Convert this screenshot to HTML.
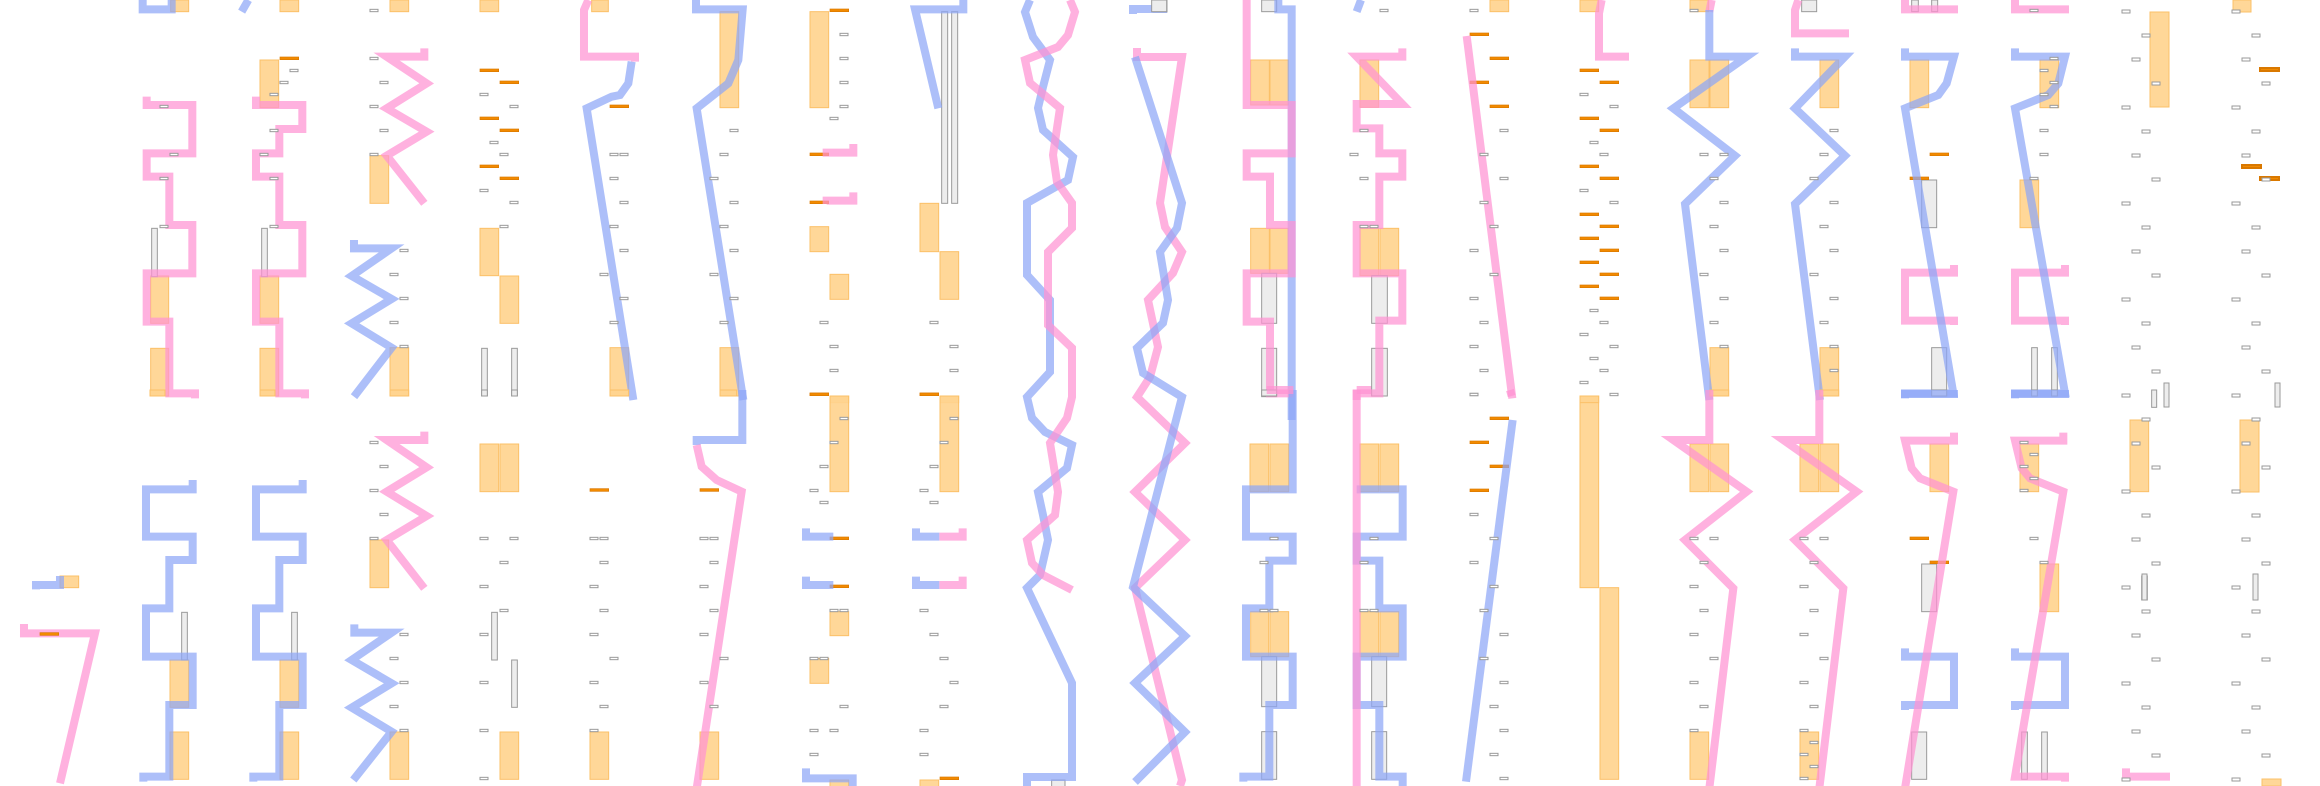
<!DOCTYPE html>
<html><head><meta charset="utf-8"><style>
html,body{margin:0;padding:0;background:#fff;width:2320px;height:786px;overflow:hidden}
svg{display:block}
.pk{fill:none;stroke:#ff93d2;stroke-opacity:.72;stroke-width:24;stroke-linejoin:miter}
.bl{fill:none;stroke:#8ea6f6;stroke-opacity:.72;stroke-width:24;stroke-linejoin:miter}
.or{fill:#ffd48f;fill-opacity:.92;stroke:#fbc068;stroke-width:3}
.ds{fill:#f28a00;stroke:#d97800;stroke-width:2}
.gl{fill:#ededed;stroke:#9a9a9a;stroke-width:3}
.gb{fill:#fff;stroke:#999;stroke-width:3}
</style></head><body>
<svg id="s" width="2320" height="786" viewBox="0 0 2320 786" xmlns="http://www.w3.org/2000/svg">
<!-- Zoom3: col0 -->
<g transform="translate(0,560) scale(0.33333)">
<rect class="or" x="180" y="48" width="56" height="35"/>
<polyline class="bl" points="108,88 108,75 180,75 180,48"/>
<polyline class="pk" points="72,192 72,220 285,220 180,670"/>
<rect class="ds" x="120" y="218" width="56" height="8"/>
</g>
<!-- Zoom6: cols1-4 top -->
<g transform="scale(0.33333)">
<rect class="or" x="512" y="0" width="54" height="35"/>
<rect class="or" x="452" y="828" width="54" height="142"/>
<rect class="or" x="452" y="1045" width="54" height="143"/>
<rect class="gl" x="455" y="685" width="17" height="145"/>
<polyline class="bl" points="428,0 428,28 515,28 515,0"/>
<polyline class="pk" points="440,290 440,315 577,315 577,460 440,460 440,530 508,530 508,675 577,675 577,820 440,820 440,965 508,965 508,1180 585,1180 585,1195"/>
<rect class="or" x="840" y="0" width="56" height="35"/>
<rect class="or" x="780" y="180" width="56" height="143"/>
<rect class="ds" x="840" y="171" width="56" height="8"/>
<rect class="or" x="780" y="828" width="56" height="142"/>
<rect class="or" x="780" y="1045" width="56" height="143"/>
<rect class="gl" x="785" y="685" width="17" height="145"/>
<polyline class="bl" points="725,35 745,0"/>
<polyline class="pk" points="768,290 768,315 907,315 907,387 838,387 838,460 768,460 768,530 838,530 838,675 907,675 907,820 768,820 768,965 838,965 838,1180 915,1180 915,1195"/>
<rect class="or" x="1170" y="0" width="56" height="35"/>
<rect class="or" x="1110" y="467" width="56" height="143"/>
<rect class="or" x="1170" y="1043" width="56" height="145"/>
<polyline class="pk" points="1273,145 1273,170 1160,170 1280,250 1160,325 1280,395 1160,467 1273,610"/>
<polyline class="bl" points="1062,720 1062,745 1175,745 1055,828 1175,897 1055,970 1175,1043 1062,1190"/>
<rect class="or" x="1440" y="0" width="56" height="35"/>
<rect class="or" x="1440" y="685" width="56" height="142"/>
<rect class="or" x="1500" y="828" width="56" height="142"/>
<rect class="gl" x="1445" y="1045" width="17" height="143"/>
<rect class="gl" x="1535" y="1045" width="17" height="143"/>
<rect class="ds" x="1440" y="207" width="56" height="8"/><rect class="ds" x="1500" y="243" width="56" height="8"/>
<rect class="ds" x="1440" y="351" width="56" height="8"/><rect class="ds" x="1500" y="387" width="56" height="8"/>
<rect class="ds" x="1440" y="495" width="56" height="8"/><rect class="ds" x="1500" y="531" width="56" height="8"/>
<rect class="gb" x="1110" y="28" width="24" height="7"/><rect class="gb" x="1110" y="172" width="24" height="7"/><rect class="gb" x="1140" y="244" width="24" height="7"/><rect class="gb" x="1110" y="316" width="24" height="7"/><rect class="gb" x="1140" y="388" width="24" height="7"/><rect class="gb" x="1110" y="460" width="24" height="7"/>
<rect class="gb" x="1200" y="748" width="24" height="7"/><rect class="gb" x="1170" y="820" width="24" height="7"/><rect class="gb" x="1200" y="892" width="24" height="7"/><rect class="gb" x="1170" y="964" width="24" height="7"/><rect class="gb" x="1200" y="1036" width="24" height="7"/>
<rect class="gb" x="1440" y="280" width="24" height="7"/><rect class="gb" x="1530" y="316" width="24" height="7"/><rect class="gb" x="1470" y="424" width="24" height="7"/><rect class="gb" x="1500" y="460" width="24" height="7"/><rect class="gb" x="1440" y="568" width="24" height="7"/><rect class="gb" x="1530" y="604" width="24" height="7"/><rect class="gb" x="1500" y="676" width="24" height="7"/>
<rect class="gb" x="480" y="316" width="24" height="7"/><rect class="gb" x="510" y="460" width="24" height="7"/><rect class="gb" x="480" y="532" width="24" height="7"/><rect class="gb" x="480" y="676" width="24" height="7"/>
<rect class="gb" x="870" y="208" width="24" height="7"/><rect class="gb" x="840" y="244" width="24" height="7"/><rect class="gb" x="810" y="280" width="24" height="7"/><rect class="gb" x="810" y="388" width="24" height="7"/><rect class="gb" x="780" y="460" width="24" height="7"/><rect class="gb" x="810" y="532" width="24" height="7"/><rect class="gb" x="810" y="676" width="24" height="7"/>
</g>
<!-- Zoom7: cols5-8 top -->
<g transform="translate(520,0) scale(0.33333)">
<rect class="or" x="215" y="0" width="50" height="35"/>
<rect class="or" x="270" y="1043" width="56" height="145"/>
<rect class="ds" x="270" y="315" width="56" height="8"/>
<polyline class="pk" points="205,0 192,30 192,170 345,170 345,185"/>
<polyline class="bl" points="335,185 325,250 300,285 275,290 200,325 340,1200"/>
<rect class="or" x="600" y="35" width="56" height="288"/>
<rect class="or" x="600" y="1043" width="56" height="145"/>
<polyline class="bl" points="528,0 528,28 668,28 655,180 625,250 530,325 670,1200"/>
<rect class="or" x="870" y="35" width="56" height="288"/>
<rect class="ds" x="930" y="27" width="56" height="8"/>
<rect class="ds" x="870" y="459" width="56" height="8"/>
<rect class="ds" x="870" y="603" width="56" height="8"/>
<polyline class="pk" points="1000,432 1000,458 920,458 920,470"/>
<polyline class="pk" points="1000,577 1000,602 920,602 920,612"/>
<rect class="or" x="870" y="680" width="56" height="75"/>
<rect class="or" x="930" y="823" width="56" height="75"/>
<rect class="ds" x="870" y="1179" width="56" height="8"/>
<rect class="or" x="930" y="1188" width="56" height="20"/>
<rect class="gl" x="1265" y="35" width="18" height="575"/>
<rect class="gl" x="1295" y="35" width="18" height="575"/>
<rect class="or" x="1200" y="610" width="56" height="145"/>
<rect class="or" x="1260" y="755" width="56" height="143"/>
<rect class="ds" x="1200" y="1179" width="56" height="8"/>
<rect class="or" x="1260" y="1188" width="56" height="20"/>
<polyline class="bl" points="1330,0 1330,28 1185,28 1255,325"/>
<rect class="gb" x="960" y="100" width="24" height="7"/><rect class="gb" x="960" y="172" width="24" height="7"/><rect class="gb" x="960" y="244" width="24" height="7"/><rect class="gb" x="960" y="316" width="24" height="7"/><rect class="gb" x="930" y="352" width="24" height="7"/>
<rect class="gb" x="630" y="388" width="24" height="7"/><rect class="gb" x="600" y="460" width="24" height="7"/><rect class="gb" x="570" y="532" width="24" height="7"/><rect class="gb" x="630" y="604" width="24" height="7"/><rect class="gb" x="600" y="676" width="24" height="7"/><rect class="gb" x="630" y="748" width="24" height="7"/><rect class="gb" x="570" y="820" width="24" height="7"/><rect class="gb" x="630" y="892" width="24" height="7"/><rect class="gb" x="600" y="964" width="24" height="7"/>
<rect class="gb" x="270" y="460" width="24" height="7"/><rect class="gb" x="300" y="460" width="24" height="7"/><rect class="gb" x="270" y="532" width="24" height="7"/><rect class="gb" x="300" y="604" width="24" height="7"/><rect class="gb" x="270" y="676" width="24" height="7"/><rect class="gb" x="300" y="748" width="24" height="7"/><rect class="gb" x="240" y="820" width="24" height="7"/><rect class="gb" x="300" y="892" width="24" height="7"/><rect class="gb" x="270" y="964" width="24" height="7"/>
<rect class="gb" x="930" y="1036" width="24" height="7"/><rect class="gb" x="930" y="1108" width="24" height="7"/><rect class="gb" x="900" y="964" width="24" height="7"/><rect class="gb" x="1230" y="964" width="24" height="7"/><rect class="gb" x="1290" y="1036" width="24" height="7"/><rect class="gb" x="1290" y="1108" width="24" height="7"/>
</g>
<!-- Zoom8: cols1-5 bottom -->
<g transform="translate(130,390) scale(0.33333)">
<rect class="or" x="60" y="0" width="45" height="18"/><rect class="or" x="390" y="0" width="45" height="18"/>
<rect class="or" x="120" y="810" width="56" height="142"/><rect class="or" x="120" y="1026" width="56" height="142"/>
<rect class="gl" x="155" y="667" width="17" height="143"/>
<polyline class="bl" points="188,270 188,298 48,298 48,440 188,440 188,510 118,510 118,655 48,655 48,800 188,800 188,945 118,945 118,1160 40,1160 40,1175"/>
<rect class="or" x="450" y="810" width="56" height="142"/><rect class="or" x="450" y="1026" width="56" height="142"/>
<rect class="gl" x="485" y="667" width="17" height="143"/>
<polyline class="bl" points="518,270 518,298 378,298 378,440 518,440 518,510 448,510 448,655 378,655 378,800 518,800 518,945 448,945 448,1160 370,1160 370,1175"/>
<rect class="or" x="780" y="0" width="56" height="18"/>
<rect class="or" x="720" y="450" width="56" height="143"/>
<rect class="or" x="780" y="1026" width="56" height="142"/>
<polyline class="pk" points="883,125 883,150 770,150 890,232 770,305 890,378 770,450 883,595"/>
<polyline class="bl" points="673,703 673,728 785,728 665,810 785,880 665,953 785,1025 670,1170"/>
<rect class="or" x="1050" y="162" width="56" height="143"/><rect class="or" x="1110" y="162" width="56" height="143"/>
<rect class="gl" x="1085" y="667" width="17" height="143"/><rect class="gl" x="1145" y="810" width="17" height="142"/>
<rect class="gl" x="1055" y="0" width="17" height="18"/><rect class="gl" x="1145" y="0" width="17" height="18"/>
<rect class="or" x="1110" y="1026" width="56" height="142"/>
<rect class="or" x="1440" y="0" width="56" height="18"/>
<rect class="or" x="1380" y="1026" width="56" height="142"/>
<rect class="ds" x="1380" y="296" width="56" height="8"/>
<rect class="gb" x="720" y="154" width="24" height="7"/><rect class="gb" x="750" y="226" width="24" height="7"/><rect class="gb" x="720" y="298" width="24" height="7"/><rect class="gb" x="750" y="370" width="24" height="7"/><rect class="gb" x="720" y="442" width="24" height="7"/>
<rect class="gb" x="810" y="730" width="24" height="7"/><rect class="gb" x="780" y="802" width="24" height="7"/><rect class="gb" x="810" y="874" width="24" height="7"/><rect class="gb" x="780" y="946" width="24" height="7"/><rect class="gb" x="810" y="1018" width="24" height="7"/>
<rect class="gb" x="1050" y="442" width="24" height="7"/><rect class="gb" x="1140" y="442" width="24" height="7"/><rect class="gb" x="1110" y="514" width="24" height="7"/><rect class="gb" x="1050" y="586" width="24" height="7"/><rect class="gb" x="1110" y="658" width="24" height="7"/><rect class="gb" x="1050" y="730" width="24" height="7"/><rect class="gb" x="1050" y="874" width="24" height="7"/><rect class="gb" x="1050" y="1018" width="24" height="7"/><rect class="gb" x="1050" y="1162" width="24" height="7"/>
<rect class="gb" x="1380" y="442" width="24" height="7"/><rect class="gb" x="1410" y="442" width="24" height="7"/><rect class="gb" x="1410" y="514" width="24" height="7"/><rect class="gb" x="1380" y="586" width="24" height="7"/><rect class="gb" x="1410" y="658" width="24" height="7"/><rect class="gb" x="1380" y="730" width="24" height="7"/><rect class="gb" x="1440" y="802" width="24" height="7"/><rect class="gb" x="1380" y="874" width="24" height="7"/><rect class="gb" x="1410" y="946" width="24" height="7"/><rect class="gb" x="1380" y="1018" width="24" height="7"/>
</g>
<!-- Zoom9: cols5-9 bottom -->
<g transform="translate(640,390) scale(0.33333)">
<rect class="or" x="240" y="0" width="50" height="18"/>
<rect class="or" x="180" y="1026" width="56" height="142"/>
<rect class="ds" x="180" y="296" width="56" height="8"/>
<polyline class="bl" points="307,0 307,150 170,150 170,165"/>
<polyline class="pk" points="170,165 185,230 230,270 305,305 170,1195"/>
<rect class="or" x="570" y="18" width="56" height="287"/>
<rect class="ds" x="510" y="9" width="56" height="8"/>
<rect class="ds" x="570" y="441" width="56" height="8"/>
<rect class="ds" x="570" y="585" width="56" height="8"/>
<rect class="or" x="570" y="665" width="56" height="72"/>
<rect class="or" x="510" y="805" width="56" height="75"/>
<rect class="or" x="570" y="1170" width="56" height="30"/>
<polyline class="bl" points="498,415 498,440 580,440"/>
<polyline class="bl" points="498,560 498,585 580,585"/>
<polyline class="bl" points="498,1135 498,1165 638,1165 638,1195"/>
<rect class="or" x="900" y="18" width="56" height="287"/>
<rect class="ds" x="840" y="9" width="56" height="8"/>
<rect class="ds" x="900" y="1161" width="56" height="8"/>
<rect class="or" x="840" y="1170" width="56" height="30"/>
<polyline class="bl" points="828,415 828,440 898,440"/>
<polyline class="pk" points="898,440 968,440 968,415"/>
<polyline class="bl" points="828,560 828,585 898,585"/>
<polyline class="pk" points="898,585 968,585 968,560"/>
<rect class="gl" x="1235" y="1170" width="40" height="30"/>
<rect class="gb" x="600" y="82" width="24" height="7"/><rect class="gb" x="570" y="154" width="24" height="7"/><rect class="gb" x="540" y="226" width="24" height="7"/><rect class="gb" x="510" y="298" width="24" height="7"/><rect class="gb" x="540" y="334" width="24" height="7"/><rect class="gb" x="570" y="658" width="24" height="7"/><rect class="gb" x="600" y="658" width="24" height="7"/><rect class="gb" x="510" y="802" width="24" height="7"/><rect class="gb" x="540" y="802" width="24" height="7"/><rect class="gb" x="600" y="946" width="24" height="7"/><rect class="gb" x="510" y="1018" width="24" height="7"/><rect class="gb" x="570" y="1018" width="24" height="7"/><rect class="gb" x="510" y="1090" width="24" height="7"/>
<rect class="gb" x="930" y="82" width="24" height="7"/><rect class="gb" x="900" y="154" width="24" height="7"/><rect class="gb" x="870" y="226" width="24" height="7"/><rect class="gb" x="840" y="298" width="24" height="7"/><rect class="gb" x="870" y="334" width="24" height="7"/><rect class="gb" x="840" y="658" width="24" height="7"/><rect class="gb" x="870" y="730" width="24" height="7"/><rect class="gb" x="900" y="802" width="24" height="7"/><rect class="gb" x="930" y="874" width="24" height="7"/><rect class="gb" x="900" y="946" width="24" height="7"/><rect class="gb" x="840" y="1018" width="24" height="7"/><rect class="gb" x="840" y="1090" width="24" height="7"/>
<rect class="gb" x="180" y="442" width="24" height="7"/><rect class="gb" x="210" y="442" width="24" height="7"/><rect class="gb" x="210" y="514" width="24" height="7"/><rect class="gb" x="180" y="586" width="24" height="7"/><rect class="gb" x="210" y="658" width="24" height="7"/><rect class="gb" x="180" y="730" width="24" height="7"/><rect class="gb" x="240" y="802" width="24" height="7"/><rect class="gb" x="180" y="874" width="24" height="7"/><rect class="gb" x="210" y="946" width="24" height="7"/>
</g>
<!-- cols9-10 in real coords -->
<g>
<rect class="gl" x="1153" y="0" width="14" height="12" style="stroke-width:1"/>
<polyline class="bl" style="stroke-width:8" points="1030,0 1025,12 1033,37 1050,60 1043,87 1038,108 1043,130 1073,157 1068,180 1027,203 1027,275 1050,300 1050,372 1027,397 1032,418 1045,432 1072,445 1067,468 1038,492 1043,515 1048,540 1040,575 1027,588 1072,683 1072,777 1027,777 1027,786"/>
<polyline class="pk" style="stroke-width:8" points="1070,0 1075,12 1068,35 1058,47 1025,60 1030,83 1060,108 1053,155 1057,182 1072,203 1072,228 1048,252 1048,325 1072,348 1072,397 1067,418 1050,443 1058,492 1055,515 1027,540 1032,563 1043,575 1072,590"/>
<polyline class="bl" style="stroke-width:8" points="1133,14 1133,9 1167,9"/>
<polyline class="pk" style="stroke-width:8" points="1137,48 1137,57 1182,57 1160,203 1165,227 1182,252 1173,273 1148,300 1158,347 1150,377 1137,397 1185,443 1135,492 1185,540 1135,588 1182,780 1180,786"/>
<polyline class="bl" style="stroke-width:8" points="1135,57 1182,203 1177,228 1160,252 1168,300 1163,323 1137,348 1143,373 1182,397 1133,587 1185,636 1135,683 1185,732 1135,782"/>
</g>
<!-- Zoom4: col11 top -->
<g transform="translate(980,0) scale(0.33333)">
<rect class="or" x="812" y="180" width="56" height="135"/><rect class="or" x="870" y="180" width="55" height="135"/>
<rect class="or" x="812" y="685" width="56" height="135"/><rect class="or" x="870" y="685" width="55" height="135"/>
<rect class="gl" x="845" y="820" width="45" height="150"/><rect class="gl" x="845" y="1045" width="45" height="145"/><rect class="gl" x="845" y="0" width="45" height="35"/>
<rect class="gl" x="515" y="0" width="45" height="35"/>
<polyline class="bl" points="895,0 895,28 935,28 935,1260"/>
<polyline class="pk" points="800,0 800,315 935,315 935,460 800,460 800,530 870,530 870,675 935,675 935,820 800,820 800,965 870,965 870,1180 940,1180"/>
</g>
<!-- Zoom10: cols11-14 bottom -->
<g transform="translate(1160,390) scale(0.33333)">
<rect class="or" x="270" y="162" width="56" height="143"/><rect class="or" x="330" y="162" width="56" height="143"/>
<rect class="or" x="272" y="665" width="54" height="135"/><rect class="or" x="330" y="665" width="56" height="135"/>
<rect class="gl" x="305" y="800" width="45" height="150"/><rect class="gl" x="305" y="1025" width="45" height="143"/><rect class="gl" x="305" y="0" width="45" height="18"/>
<polyline class="bl" points="398,0 398,298 258,298 258,440 398,440 398,512 328,512 328,655 258,655 258,800 398,800 398,945 328,945 328,1160 250,1160 250,1175"/>
<polyline class="pk" points="320,0 400,0"/>
<rect class="or" x="600" y="162" width="56" height="143"/><rect class="or" x="660" y="162" width="56" height="143"/>
<rect class="or" x="600" y="665" width="56" height="135"/><rect class="or" x="660" y="665" width="56" height="135"/>
<rect class="gl" x="635" y="800" width="45" height="150"/><rect class="gl" x="635" y="1025" width="45" height="143"/><rect class="gl" x="635" y="0" width="45" height="18"/>
<polyline class="bl" points="590,298 728,298 728,440 590,440 590,512 658,512 658,655 728,655 728,800 590,800 590,945 658,945 658,1160 728,1160 728,1195"/>
<polyline class="pk" points="590,0 590,1195"/>
<polyline class="pk" points="590,0 670,0"/>
<polyline class="pk" points="1050,0 1055,18"/>
<rect class="ds" x="990" y="81" width="56" height="8"/><rect class="ds" x="930" y="153" width="56" height="8"/><rect class="ds" x="990" y="225" width="56" height="8"/><rect class="ds" x="930" y="297" width="56" height="8"/>
<polyline class="bl" points="1058,90 918,1175"/>
<rect class="or" x="1260" y="18" width="56" height="575"/><rect class="or" x="1320" y="593" width="56" height="575"/>
<rect class="gb" x="930" y="10" width="24" height="7"/><rect class="gb" x="930" y="370" width="24" height="7"/><rect class="gb" x="990" y="442" width="24" height="7"/><rect class="gb" x="930" y="514" width="24" height="7"/><rect class="gb" x="990" y="586" width="24" height="7"/><rect class="gb" x="960" y="658" width="24" height="7"/><rect class="gb" x="1020" y="730" width="24" height="7"/><rect class="gb" x="960" y="802" width="24" height="7"/><rect class="gb" x="1020" y="874" width="24" height="7"/><rect class="gb" x="990" y="946" width="24" height="7"/><rect class="gb" x="1020" y="1018" width="24" height="7"/><rect class="gb" x="990" y="1090" width="24" height="7"/><rect class="gb" x="1020" y="1162" width="24" height="7"/>
<rect class="gb" x="330" y="442" width="24" height="7"/><rect class="gb" x="300" y="514" width="24" height="7"/><rect class="gb" x="300" y="658" width="24" height="7"/><rect class="gb" x="330" y="658" width="24" height="7"/>
<rect class="gb" x="630" y="442" width="24" height="7"/><rect class="gb" x="600" y="514" width="24" height="7"/><rect class="gb" x="600" y="658" width="24" height="7"/><rect class="gb" x="630" y="658" width="24" height="7"/>
</g>
<!-- Zoom11: cols12-14 top -->
<g transform="translate(1300,0) scale(0.33333)">
<rect class="or" x="180" y="180" width="56" height="142"/>
<rect class="or" x="180" y="685" width="56" height="142"/><rect class="or" x="240" y="685" width="56" height="142"/>
<rect class="gl" x="215" y="827" width="47" height="143"/><rect class="gl" x="215" y="1045" width="47" height="143"/>
<polyline class="bl" points="183,0 170,35"/>
<polyline class="pk" points="307,145 307,170 170,170 307,312 170,312 170,385 238,385 238,460 307,460 307,530 238,530 238,675 170,675 170,820 307,820 307,962 238,962 238,1180 170,1180 170,1200"/>
<rect class="or" x="570" y="0" width="56" height="35"/>
<rect class="ds" x="510" y="99" width="56" height="8"/><rect class="ds" x="570" y="171" width="56" height="8"/><rect class="ds" x="510" y="243" width="56" height="8"/><rect class="ds" x="570" y="315" width="56" height="8"/>
<polyline class="pk" points="500,108 637,1195"/>
<rect class="or" x="840" y="0" width="56" height="35"/>
<polyline class="pk" points="905,0 897,40 897,170 975,170 975,182"/>
<rect class="ds" x="840" y="207" width="56" height="8"/><rect class="ds" x="900" y="243" width="56" height="8"/>
<rect class="ds" x="840" y="351" width="56" height="8"/><rect class="ds" x="900" y="387" width="56" height="8"/>
<rect class="ds" x="840" y="495" width="56" height="8"/><rect class="ds" x="900" y="531" width="56" height="8"/>
<rect class="ds" x="840" y="639" width="56" height="8"/><rect class="ds" x="900" y="675" width="56" height="8"/>
<rect class="ds" x="840" y="711" width="56" height="8"/><rect class="ds" x="900" y="747" width="56" height="8"/>
<rect class="ds" x="840" y="783" width="56" height="8"/><rect class="ds" x="900" y="819" width="56" height="8"/>
<rect class="ds" x="840" y="855" width="56" height="8"/><rect class="ds" x="900" y="891" width="56" height="8"/>
<rect class="or" x="840" y="1188" width="56" height="20"/>
<rect class="gb" x="240" y="28" width="24" height="7"/><rect class="gb" x="180" y="388" width="24" height="7"/><rect class="gb" x="150" y="460" width="24" height="7"/><rect class="gb" x="180" y="532" width="24" height="7"/><rect class="gb" x="180" y="676" width="24" height="7"/><rect class="gb" x="210" y="676" width="24" height="7"/>
<rect class="gb" x="510" y="28" width="24" height="7"/><rect class="gb" x="600" y="388" width="24" height="7"/><rect class="gb" x="540" y="460" width="24" height="7"/><rect class="gb" x="600" y="532" width="24" height="7"/><rect class="gb" x="540" y="604" width="24" height="7"/><rect class="gb" x="570" y="676" width="24" height="7"/><rect class="gb" x="510" y="748" width="24" height="7"/><rect class="gb" x="570" y="820" width="24" height="7"/><rect class="gb" x="510" y="892" width="24" height="7"/><rect class="gb" x="540" y="964" width="24" height="7"/><rect class="gb" x="510" y="1036" width="24" height="7"/><rect class="gb" x="540" y="1108" width="24" height="7"/><rect class="gb" x="510" y="1180" width="24" height="7"/>
<rect class="gb" x="840" y="280" width="24" height="7"/><rect class="gb" x="930" y="316" width="24" height="7"/><rect class="gb" x="870" y="424" width="24" height="7"/><rect class="gb" x="900" y="460" width="24" height="7"/><rect class="gb" x="840" y="568" width="24" height="7"/><rect class="gb" x="930" y="604" width="24" height="7"/><rect class="gb" x="870" y="928" width="24" height="7"/><rect class="gb" x="900" y="964" width="24" height="7"/><rect class="gb" x="840" y="1000" width="24" height="7"/><rect class="gb" x="930" y="1036" width="24" height="7"/><rect class="gb" x="870" y="1072" width="24" height="7"/><rect class="gb" x="900" y="1108" width="24" height="7"/><rect class="gb" x="840" y="1144" width="24" height="7"/><rect class="gb" x="930" y="1180" width="24" height="7"/>
</g>
<!-- Zoom5: cols15-18 top -->
<g transform="translate(1650,0) scale(0.33333)">
<rect class="or" x="120" y="0" width="56" height="35"/>
<rect class="or" x="120" y="180" width="57" height="143"/><rect class="or" x="180" y="180" width="56" height="143"/>
<rect class="or" x="180" y="1043" width="56" height="145"/>
<polyline class="pk" points="185,0 178,35"/>
<polyline class="bl" points="178,30 178,170 290,170 70,325 255,467 105,612 178,1200"/>
<rect class="gl" x="455" y="0" width="45" height="35"/>
<rect class="or" x="510" y="180" width="56" height="143"/><rect class="or" x="510" y="1043" width="56" height="145"/>
<polyline class="pk" points="445,0 435,30 435,100 585,100 585,112"/>
<polyline class="bl" points="435,145 435,170 585,170 435,325 585,467 435,612 510,1200"/>
<rect class="or" x="780" y="180" width="56" height="143"/>
<rect class="gl" x="785" y="0" width="20" height="35"/><rect class="gl" x="845" y="0" width="18" height="35"/>
<rect class="gl" x="815" y="540" width="45" height="143"/><rect class="gl" x="845" y="1043" width="45" height="145"/>
<rect class="ds" x="840" y="459" width="56" height="8"/><rect class="ds" x="780" y="531" width="56" height="8"/>
<polyline class="pk" points="765,0 765,28 912,28 912,40"/>
<polyline class="pk" points="912,795 912,818 765,818 765,962 912,962 912,975"/>
<polyline class="bl" points="765,145 765,170 912,170 890,250 865,285 765,325 910,1180 765,1180 765,1195"/>
<rect class="or" x="1170" y="180" width="56" height="143"/><rect class="or" x="1110" y="540" width="56" height="143"/>
<rect class="gl" x="1145" y="1043" width="17" height="145"/><rect class="gl" x="1205" y="1043" width="17" height="145"/>
<polyline class="pk" points="1095,0 1095,28 1245,28 1245,40"/>
<polyline class="pk" points="1245,795 1245,818 1095,818 1095,962 1245,962 1245,975"/>
<polyline class="bl" points="1095,145 1095,170 1245,170 1225,250 1195,285 1095,325 1245,1180 1095,1180 1095,1195"/>
<rect class="gb" x="150" y="460" width="24" height="7"/><rect class="gb" x="210" y="460" width="24" height="7"/><rect class="gb" x="180" y="532" width="24" height="7"/><rect class="gb" x="210" y="604" width="24" height="7"/><rect class="gb" x="180" y="676" width="24" height="7"/><rect class="gb" x="210" y="748" width="24" height="7"/><rect class="gb" x="150" y="820" width="24" height="7"/><rect class="gb" x="210" y="892" width="24" height="7"/><rect class="gb" x="180" y="964" width="24" height="7"/><rect class="gb" x="210" y="1036" width="24" height="7"/><rect class="gb" x="120" y="28" width="24" height="7"/>
<rect class="gb" x="540" y="388" width="24" height="7"/><rect class="gb" x="510" y="460" width="24" height="7"/><rect class="gb" x="480" y="532" width="24" height="7"/><rect class="gb" x="540" y="604" width="24" height="7"/><rect class="gb" x="510" y="676" width="24" height="7"/><rect class="gb" x="540" y="748" width="24" height="7"/><rect class="gb" x="480" y="820" width="24" height="7"/><rect class="gb" x="540" y="892" width="24" height="7"/><rect class="gb" x="510" y="964" width="24" height="7"/><rect class="gb" x="540" y="1036" width="24" height="7"/><rect class="gb" x="540" y="1108" width="24" height="7"/>
<rect class="gb" x="1200" y="172" width="24" height="7"/><rect class="gb" x="1170" y="208" width="24" height="7"/><rect class="gb" x="1200" y="244" width="24" height="7"/><rect class="gb" x="1170" y="280" width="24" height="7"/><rect class="gb" x="1200" y="316" width="24" height="7"/><rect class="gb" x="1170" y="388" width="24" height="7"/><rect class="gb" x="1170" y="460" width="24" height="7"/><rect class="gb" x="1140" y="532" width="24" height="7"/><rect class="gb" x="1140" y="28" width="24" height="7"/>
</g>
<!-- Zoom12: cols15-19 bottom -->
<g transform="translate(1650,390) scale(0.33333)">
<rect class="or" x="180" y="0" width="56" height="18"/>
<rect class="or" x="120" y="162" width="56" height="143"/><rect class="or" x="180" y="162" width="56" height="143"/>
<rect class="or" x="120" y="1026" width="56" height="142"/>
<polyline class="pk" points="178,0 178,150 70,150 290,305 105,450 250,595 178,1195"/>
<rect class="or" x="510" y="0" width="56" height="18"/>
<rect class="or" x="450" y="162" width="56" height="143"/><rect class="or" x="510" y="162" width="56" height="143"/>
<rect class="or" x="450" y="1026" width="56" height="142"/>
<polyline class="pk" points="508,0 508,150 400,150 620,305 435,450 580,595 508,1195"/>
<rect class="or" x="840" y="162" width="56" height="143"/>
<rect class="gl" x="845" y="0" width="45" height="18"/>
<rect class="gl" x="815" y="522" width="45" height="143"/><rect class="gl" x="785" y="1026" width="45" height="142"/>
<rect class="ds" x="780" y="441" width="56" height="8"/><rect class="ds" x="840" y="513" width="56" height="8"/>
<polyline class="bl" points="765,0 765,12 912,12 912,0"/>
<polyline class="bl" points="765,775 765,800 912,800 912,945 765,945 765,960"/>
<polyline class="pk" points="912,128 912,152 765,152 785,235 810,265 910,305 765,1195"/>
<rect class="or" x="1110" y="162" width="56" height="143"/><rect class="or" x="1170" y="522" width="56" height="143"/>
<rect class="gl" x="1145" y="0" width="17" height="18"/><rect class="gl" x="1205" y="0" width="17" height="18"/>
<rect class="gl" x="1115" y="1026" width="17" height="142"/><rect class="gl" x="1175" y="1026" width="17" height="142"/>
<polyline class="bl" points="1095,0 1095,12 1245,12 1245,0"/>
<polyline class="bl" points="1095,775 1095,800 1245,800 1245,945 1095,945 1095,960"/>
<polyline class="pk" points="1240,128 1240,152 1095,152 1115,235 1140,265 1240,305 1095,1160 1245,1160 1245,1175"/>
<rect class="or" x="1440" y="90" width="56" height="215"/>
<rect class="gl" x="1475" y="558" width="17" height="72"/><rect class="gl" x="1505" y="0" width="15" height="52"/>
<polyline class="pk" points="1428,1135 1428,1160 1560,1160"/>
<rect class="gb" x="120" y="442" width="24" height="7"/><rect class="gb" x="180" y="442" width="24" height="7"/><rect class="gb" x="150" y="514" width="24" height="7"/><rect class="gb" x="120" y="586" width="24" height="7"/><rect class="gb" x="150" y="658" width="24" height="7"/><rect class="gb" x="120" y="730" width="24" height="7"/><rect class="gb" x="180" y="802" width="24" height="7"/><rect class="gb" x="120" y="874" width="24" height="7"/><rect class="gb" x="150" y="946" width="24" height="7"/><rect class="gb" x="120" y="1018" width="24" height="7"/>
<rect class="gb" x="450" y="442" width="24" height="7"/><rect class="gb" x="510" y="442" width="24" height="7"/><rect class="gb" x="480" y="514" width="24" height="7"/><rect class="gb" x="450" y="586" width="24" height="7"/><rect class="gb" x="480" y="658" width="24" height="7"/><rect class="gb" x="450" y="730" width="24" height="7"/><rect class="gb" x="510" y="802" width="24" height="7"/><rect class="gb" x="450" y="874" width="24" height="7"/><rect class="gb" x="480" y="946" width="24" height="7"/><rect class="gb" x="450" y="1018" width="24" height="7"/><rect class="gb" x="480" y="1054" width="24" height="7"/><rect class="gb" x="450" y="1090" width="24" height="7"/><rect class="gb" x="480" y="1126" width="24" height="7"/><rect class="gb" x="450" y="1162" width="24" height="7"/>
<rect class="gb" x="1110" y="154" width="24" height="7"/><rect class="gb" x="1140" y="190" width="24" height="7"/><rect class="gb" x="1110" y="226" width="24" height="7"/><rect class="gb" x="1140" y="262" width="24" height="7"/><rect class="gb" x="1110" y="298" width="24" height="7"/><rect class="gb" x="1140" y="442" width="24" height="7"/><rect class="gb" x="1170" y="514" width="24" height="7"/>
</g>
<!-- cols 19-20 real -->
<g>
<rect class="or" style="stroke-width:1" x="2150" y="12" width="19" height="95"/>
<rect class="gl" style="stroke-width:1" x="2164" y="383" width="5" height="24"/>
<rect class="gl" style="stroke-width:1" x="2142" y="574" width="5" height="26"/>
<rect class="or" style="stroke-width:1" x="2233" y="0" width="18" height="12"/>
<rect class="or" style="stroke-width:1" x="2240" y="420" width="19" height="72"/>
<rect class="gl" style="stroke-width:1" x="2275" y="383" width="5" height="24"/>
<rect class="gl" style="stroke-width:1" x="2253" y="574" width="5" height="26"/>
<rect class="ds" x="2260" y="68" width="19" height="3"/><rect class="ds" x="2242" y="165" width="19" height="3"/><rect class="ds" x="2260" y="177" width="19" height="3"/>
<rect class="or" style="stroke-width:1" x="2262" y="779" width="19" height="7"/>
</g>
<g id="gbs"></g>
</svg>
<script>
(function(){
var g=document.getElementById('gbs'),ns='http://www.w3.org/2000/svg';
var cols=[2122,2232];
cols.forEach(function(cx){
 for(var k=0;k<33;k++){
  var y=10+k*24; var offs=[0,20,10,30][k%4];
  var r=document.createElementNS(ns,'rect');
  r.setAttribute('x',cx+offs);r.setAttribute('y',y);r.setAttribute('width',8);r.setAttribute('height',3);
  r.setAttribute('fill','#fff');r.setAttribute('stroke','#999');r.setAttribute('stroke-width','1');
  g.appendChild(r);
 }
});
})();
</script>
</body></html>
